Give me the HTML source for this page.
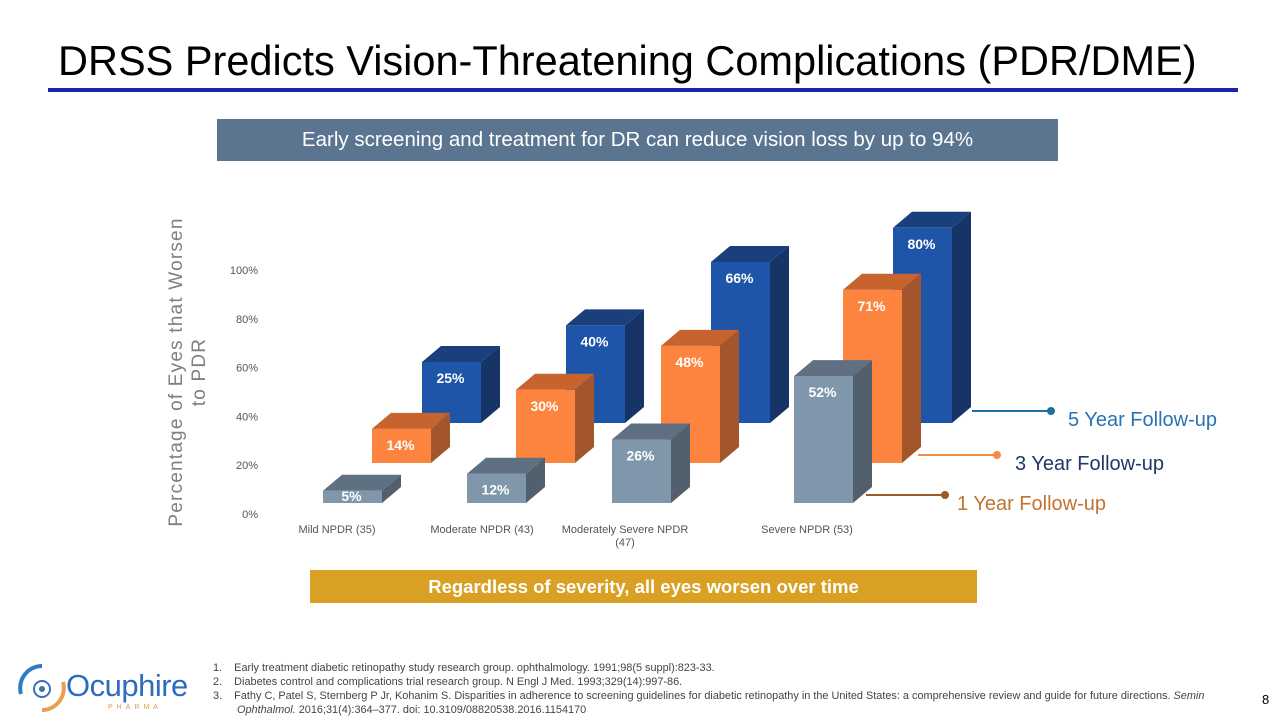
<!DOCTYPE html>
<html><head><meta charset="utf-8"><style>
body{margin:0;width:1280px;height:720px;background:#fff;font-family:"Liberation Sans",sans-serif;overflow:hidden;position:relative}
.abs{position:absolute}
</style></head><body>
<div class="abs" style="left:58px;top:37px;font-size:41.5px;color:#000;white-space:nowrap">DRSS Predicts Vision-Threatening Complications (PDR/DME)</div>
<div class="abs" style="left:48px;top:88px;width:1190px;height:4px;background:#1c22b0"></div>
<div class="abs" style="left:217px;top:119px;width:841px;height:42px;background:#5b7590;color:#fff;font-size:20.5px;line-height:42px;text-align:center;white-space:nowrap">Early screening and treatment for DR can reduce vision loss by up to 94%</div>
<div class="abs" style="left:310px;top:570px;width:667px;height:33px;background:#d9a023;color:#fff;font-size:18.5px;font-weight:bold;line-height:33px;text-align:center;white-space:nowrap">Regardless of severity, all eyes worsen over time</div>
<svg class="abs" style="left:0;top:0" width="1280" height="720" id="chart"></svg>
<div class="abs" style="left:213px;top:661px;font-size:10.9px;color:#444;line-height:14px;width:1040px;white-space:nowrap">
<div>1.&nbsp;&nbsp;&nbsp;&nbsp;Early treatment diabetic retinopathy study research group. ophthalmology. 1991;98(5 suppl):823-33.</div>
<div>2.&nbsp;&nbsp;&nbsp;&nbsp;Diabetes control and complications trial research group. N Engl J Med. 1993;329(14):997-86.</div>
<div>3.&nbsp;&nbsp;&nbsp;&nbsp;Fathy C, Patel S, Sternberg P Jr, Kohanim S. Disparities in adherence to screening guidelines for diabetic retinopathy in the United States: a comprehensive review and guide for future directions. <i>Semin</i></div>
<div style="padding-left:24px"><i>Ophthalmol.</i> 2016;31(4):364–377. doi: 10.3109/08820538.2016.1154170</div>
</div>
<div class="abs" style="left:1262px;top:692px;font-size:13px;color:#000">8</div>
<div class="abs" style="left:16px;top:662px;width:180px;height:54px">
<svg width="52" height="52" style="position:absolute;left:0;top:0"><path d="M26 4 A22 22 0 0 0 5 32" stroke="#2e7cc6" stroke-width="4" fill="none"/><path d="M47 20 A22 22 0 0 1 26 48" stroke="#e8a050" stroke-width="4" fill="none"/><circle cx="26" cy="27" r="8" stroke="#3b6fc0" stroke-width="2" fill="none"/><circle cx="26" cy="27" r="3" fill="#3b6fc0"/></svg>
<div style="position:absolute;left:50px;top:6px;font-size:31px;color:#2d6cc0;letter-spacing:-0.5px">Ocuphire</div>
<div style="position:absolute;left:92px;top:42px;font-size:7px;letter-spacing:4px;color:#e09a50">PHARMA</div>
</div>
<script>
const categories=["Mild NPDR (35)","Moderate NPDR (43)","Moderately Severe NPDR|(47)","Severe NPDR (53)"];
const year1=[5,12,26,52];
const year3=[14,30,48,71];
const year5=[25,40,66,80];
const yTicks=[0,20,40,60,80,100];
const svg=document.getElementById('chart');
const NS='http://www.w3.org/2000/svg';
function mk(t,a,p){const e=document.createElementNS(NS,t);for(const k in a)e.setAttribute(k,a[k]);(p||svg).appendChild(e);return e;}
const pxPer=2.44;
function barH(v){return v*pxPer;}
function yAxis(v){return 514-v*2.44;}
const groupX=[323,467,612,794];
const series=[
 {vals:year5,dx:99,base:423,front:'#1f55a8',top:'#1a3f7d',side:'#163466',name:'5yr'},
 {vals:year3,dx:49,base:463,front:'#fd843f',top:'#c6632f',side:'#a3552b',name:'3yr'},
 {vals:year1,dx:0,base:503,front:'#7f96ab',top:'#5f7082',side:'#525f6c',name:'1yr'}
];
const W=59,DX=19,DY=16;
yTicks.forEach(t=>{
 const tx=mk('text',{x:258,y:yAxis(t)+4,'text-anchor':'end','font-size':11,fill:'#555'});
 tx.textContent=t+'%';
 
 
});
const yt=mk('text',{transform:'translate(188,372) rotate(-90)','text-anchor':'middle','font-size':19,'letter-spacing':1.2,fill:'#7f7f7f'});


mk('tspan',{x:0,dy:-6},yt).textContent='Percentage of Eyes that Worsen';
mk('tspan',{x:0,dy:23},yt).textContent='to PDR';
series.forEach(s=>{
 s.vals.forEach((v,i)=>{
  const x=groupX[i]+s.dx,b=s.base,h=barH(v),t=b-h;
  const g=mk('g',{});
  
  
  mk('rect',{x:x,y:t,width:W,height:h,fill:s.front},g);
  mk('polygon',{points:`${x},${t} ${x+DX},${t-DY} ${x+W+DX},${t-DY} ${x+W},${t}`,fill:s.top},g);
  mk('polygon',{points:`${x+W},${t} ${x+W+DX},${t-DY} ${x+W+DX},${b-DY} ${x+W},${b}`,fill:s.side},g);
  const l=mk('text',{x:x+W/2-1,y:Math.min(t+21,b-2),'text-anchor':'middle','font-size':14,'font-weight':'bold',fill:'#fff'},g);
  l.textContent=v+'%';
 });
});
const catC=[337,482,625,807];
categories.forEach((c,i)=>{
 const parts=c.split('|');
 parts.forEach((p,j)=>{
  const tx=mk('text',{x:catC[i],y:533+j*13,'text-anchor':'middle','font-size':11,fill:'#555'});
  tx.textContent=p;
  
  
 });
});
const legend=[
 {x1:972,x2:1051,y:411,c:'#1f6fa0',tc:'#2a72b5',tx:1068,label:'5 Year Follow-up'},
 {x1:918,x2:997,y:455,c:'#f58a45',tc:'#1f3864',tx:1015,label:'3 Year Follow-up'},
 {x1:866,x2:945,y:495,c:'#9c5a25',tc:'#c0742f',tx:957,label:'1 Year Follow-up'}
];
legend.forEach(L=>{
 const g=mk('g',{});
 
 
 mk('line',{x1:L.x1,y1:L.y,x2:L.x2,y2:L.y,stroke:L.c,'stroke-width':2},g);
 mk('circle',{cx:L.x2,cy:L.y,r:4,fill:L.c},g);
 const t=mk('text',{x:L.tx,y:L.y+15,'font-size':20,fill:L.tc},g);
 t.textContent=L.label;
});
</script>
</body></html>
